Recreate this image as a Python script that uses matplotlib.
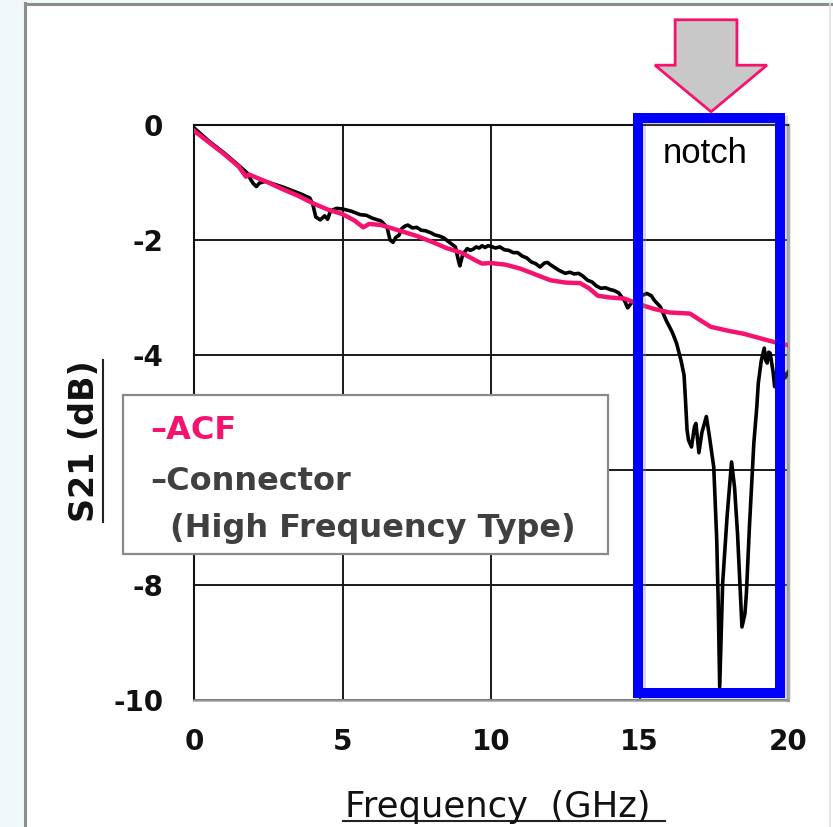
import matplotlib
matplotlib.use("Agg")
import matplotlib.pyplot as plt
from matplotlib.patches import Rectangle, Polygon
from matplotlib.lines import Line2D
from matplotlib.transforms import IdentityTransform
import matplotlib.patheffects as pe

plt.rcParams["axes.unicode_minus"] = False

# ---- data ----
acf_freq = [0, 0.5, 1.0, 1.5, 1.75, 1.85, 2.5, 3.0, 3.5, 4.0, 4.5, 5.0, 5.4, 5.7,
            5.9, 6.3, 7.0, 7.5, 8.0, 8.5, 9.0, 9.5, 9.7, 10.0, 10.5, 11.0, 11.5,
            12.0, 12.5, 13.0, 13.3, 13.6, 14.0, 14.5, 15.0, 15.5, 16.0, 16.7,
            17.0, 17.4, 18.0, 18.5, 19.0, 19.5, 20.0]
acf_s21 = [-0.10, -0.30, -0.50, -0.72, -0.90, -0.86, -1.00, -1.12, -1.23, -1.36,
           -1.47, -1.55, -1.66, -1.78, -1.72, -1.74, -1.85, -1.93, -2.03, -2.14,
           -2.22, -2.36, -2.41, -2.40, -2.43, -2.50, -2.60, -2.70, -2.74, -2.75,
           -2.84, -2.97, -3.00, -3.02, -3.12, -3.20, -3.26, -3.28, -3.38, -3.51,
           -3.58, -3.63, -3.70, -3.77, -3.83]

conn_freq = [0, 0.5, 1.0, 1.5, 1.8, 1.9, 2.0, 2.1, 2.2, 2.4, 2.7, 3.0, 3.3, 3.6,
             3.9, 4.0, 4.1, 4.25, 4.4, 4.5, 4.6, 4.8, 5.0, 5.3, 5.6, 5.8, 6.0,
             6.3, 6.5, 6.6, 6.7, 6.8, 6.9, 7.0, 7.1, 7.2, 7.35, 7.5, 7.65, 7.8,
             8.0, 8.1, 8.25, 8.4, 8.6, 8.8, 8.9, 8.95, 9.05, 9.2, 9.3, 9.4, 9.5,
             9.6, 9.7, 9.8, 9.9, 10.0, 10.15, 10.3, 10.45, 10.6, 10.75, 10.9,
             11.05, 11.2, 11.35, 11.5, 11.65, 11.8, 11.9, 12.0, 12.15, 12.3,
             12.5, 12.65, 12.8, 12.95, 13.1, 13.25, 13.4, 13.55, 13.7, 13.85,
             14.0, 14.15, 14.3, 14.5, 14.6, 14.75, 14.9, 15.0, 15.1, 15.25,
             15.4, 15.5, 15.7, 15.9, 16.1, 16.25, 16.4, 16.5, 16.55, 16.6,
             16.65, 16.75, 16.85, 16.9, 17.0, 17.1, 17.25, 17.35, 17.5, 17.6,
             17.65, 17.7, 17.75, 17.8, 17.95, 18.1, 18.2, 18.3, 18.4, 18.45,
             18.55, 18.6, 18.7, 18.85, 18.95, 19.0, 19.1, 19.2, 19.25, 19.3,
             19.35, 19.4, 19.5, 19.55, 19.65, 19.8, 19.9, 20.0]
conn_s21 = [-0.05, -0.28, -0.48, -0.70, -0.84, -0.94, -1.02, -1.07, -1.01, -0.98,
            -1.03, -1.08, -1.14, -1.20, -1.27, -1.38, -1.60, -1.65, -1.58, -1.64,
            -1.49, -1.45, -1.46, -1.50, -1.56, -1.57, -1.62, -1.67, -1.78, -2.00,
            -2.04, -1.95, -1.92, -1.80, -1.76, -1.74, -1.79, -1.78, -1.83, -1.84,
            -1.88, -1.91, -1.93, -1.96, -2.04, -2.12, -2.35, -2.45, -2.25, -2.15,
            -2.18, -2.16, -2.12, -2.14, -2.10, -2.13, -2.10, -2.11, -2.14, -2.12,
            -2.17, -2.18, -2.22, -2.22, -2.28, -2.31, -2.38, -2.41, -2.47, -2.40,
            -2.39, -2.43, -2.48, -2.53, -2.58, -2.56, -2.59, -2.58, -2.63, -2.70,
            -2.73, -2.80, -2.84, -2.83, -2.86, -2.88, -2.92, -3.06, -3.18, -3.08,
            -3.04, -3.00, -2.96, -2.93, -2.97, -3.05, -3.16, -3.40, -3.60, -3.80,
            -4.10, -4.35, -4.80, -5.30, -5.48, -5.60, -5.25, -5.19, -5.70, -5.35,
            -5.07, -5.40, -5.95, -7.20, -8.30, -9.77, -8.90, -7.97, -6.80, -5.86,
            -6.30, -7.10, -8.20, -8.73, -8.50, -8.14, -7.00, -5.53, -4.90, -4.49,
            -4.10, -3.88, -4.10, -4.14, -3.95, -3.97, -4.30, -4.55, -4.30, -4.20,
            -4.40, -4.30]

x_ticks = [0, 5, 10, 15, 20]
y_ticks = [0, -2, -4, -6, -8, -10]
y_tick_labels = ["0", "-2", "-4", "", "-8", "-10"]  # "-6" sits behind the legend box
notch_band = (14.95, 19.73)

PINK = "#F5136F"
W, H = 833, 827

fig = plt.figure(figsize=(W / 100, H / 100), dpi=100)
fig.patch.set_facecolor("#EFF9FA")

# white panel with grey frame
fig.patches.append(Rectangle((24 / W, 0), 1 - 24 / W, 1 - 3 / H,
                             transform=fig.transFigure, facecolor="white",
                             edgecolor="none", zorder=-10))
fig.add_artist(Line2D([24.5 / W, 24.5 / W], [0, 1 - 3 / H], transform=fig.transFigure,
                      color="#8c8c8c", lw=2.2))
fig.add_artist(Line2D([24.5 / W, 1], [1 - 3.5 / H, 1 - 3.5 / H], transform=fig.transFigure,
                      color="#8c8c8c", lw=2.2))
fig.add_artist(Line2D([830 / W, 830 / W], [0, 1 - 3 / H], transform=fig.transFigure,
                      color="#e0e0e0", lw=1.2))

ax = fig.add_axes([194 / W, 1 - 700 / H, 594 / W, 575 / H])
ax.set_facecolor("white")
ax.plot(conn_freq, conn_s21, color="black", lw=2.6, zorder=3)
ax.plot(acf_freq, acf_s21, color=PINK, lw=3.2, zorder=4)

ax.set_xlim(0, 20)
ax.set_ylim(-10, 0)
ax.set_xticks(x_ticks)
ax.set_yticks(y_ticks)
ax.set_yticklabels(y_tick_labels)
ax.grid(True, color="#1a1a1a", lw=1.4)
ax.set_axisbelow(True)
ax.tick_params(length=0, labelsize=20, pad=22)
ax.tick_params(axis="x", pad=20)
for lab in ax.get_xticklabels() + ax.get_yticklabels():
    lab.set_fontweight("bold")
    lab.set_color("#111111")
for side in ["top", "left"]:
    ax.spines[side].set_color("#111111")
    ax.spines[side].set_linewidth(1.5)
ax.spines["bottom"].set_color("#9a9a9a")
ax.spines["bottom"].set_linewidth(1.8)
ax.spines["right"].set_color("#aaaaaa")
ax.spines["right"].set_linewidth(2.5)

# blue "notch" box with soft shadow
box = Rectangle((notch_band[0], -9.88), notch_band[1] - notch_band[0], 10.0,
                fill=False, edgecolor="#0000FF", lw=7.2, clip_on=False, zorder=9,
                joinstyle="miter")
box.set_path_effects([pe.SimpleLineShadow(offset=(2.2, -2.2), shadow_color="#888888", alpha=0.3),
                      pe.Normal()])
ax.add_patch(box)
ax.text(17.2, -0.49, "notch", fontsize=25, family="Liberation Sans",
        ha="center", va="center", color="black", zorder=11)

# grey block arrow with pink outline
arrow_pts = [(16.20, 1.83), (18.28, 1.83), (18.28, 1.04), (19.29, 1.04),
             (17.41, 0.23), (15.52, 1.04), (16.20, 1.04)]
ax.add_patch(Polygon(arrow_pts, closed=True, facecolor="#C8C8C8", edgecolor=PINK,
                     lw=2.0, clip_on=False, zorder=10))

# legend box (covers part of the axis)
fig.patches.append(Rectangle((123 / W, 1 - 554 / H), (608 - 123) / W, (554 - 395) / H,
                             transform=fig.transFigure, facecolor="white",
                             edgecolor="#8a8a8a", lw=1.6, zorder=20))
fig.text(150 / W, 1 - 439 / H, "\u2013ACF", color=PINK, fontsize=23,
         fontweight="bold", zorder=21)
fig.text(150 / W, 1 - 490 / H, "\u2013Connector", color="#404040", fontsize=23,
         fontweight="bold", zorder=21)
fig.text(170 / W, 1 - 537 / H, "(High Frequency Type)", color="#404040", fontsize=23,
         fontweight="bold", zorder=21)

# axis titles, underlined
ylab = fig.text(85 / W, 1 - 441 / H, "S21 (dB)", rotation=90, fontsize=24,
                fontweight="bold", ha="center", va="center", color="#111111")
xlab = fig.text(498 / W, 1 - 817 / H, "Frequency  (GHz)", fontsize=25.5,
                ha="center", va="baseline", color="#111111")

fig.canvas.draw()
r = fig.canvas.get_renderer()
bb = ylab.get_window_extent(r)
fig.add_artist(Line2D([bb.x1 + 1, bb.x1 + 1], [bb.y0, bb.y1], transform=IdentityTransform(),
                      color="#222222", lw=1.5))
bb = xlab.get_window_extent(r)
yb = H - 821
fig.add_artist(Line2D([bb.x0 - 2, bb.x1 + 14], [yb, yb], transform=IdentityTransform(),
                      color="#222222", lw=1.5))

fig.savefig("out.png", dpi=100)
